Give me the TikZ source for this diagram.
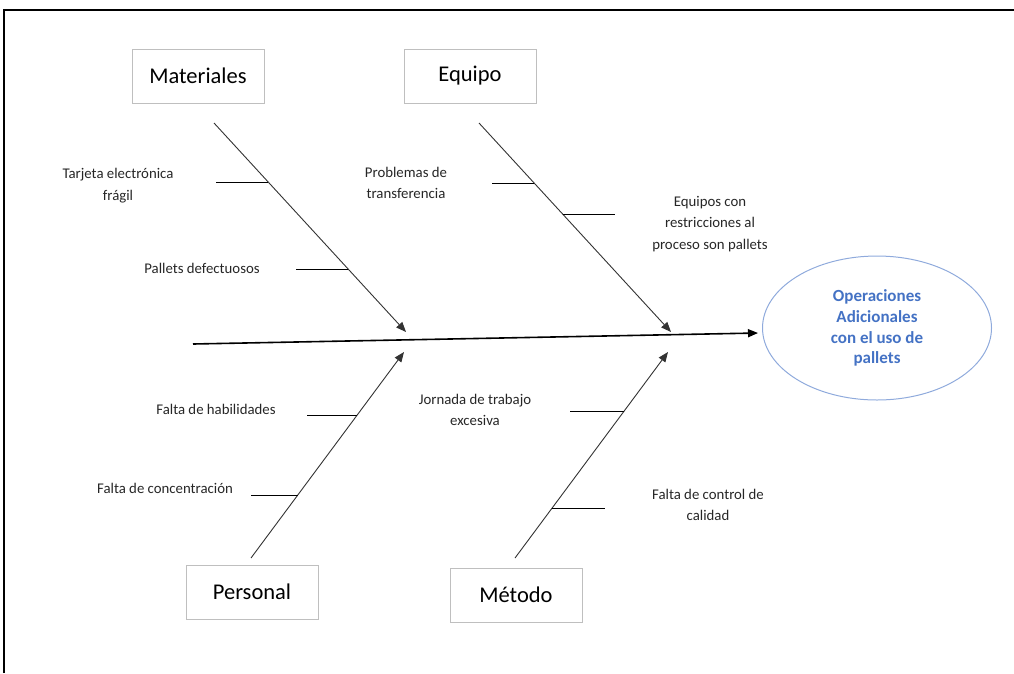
\documentclass[tikz,border=0pt]{standalone}
\usepackage{fontspec}
\setmainfont{Carlito}
\usetikzlibrary{calc,arrows.meta,shapes.geometric}
\definecolor{boxgray}{HTML}{BFBFBF}
\definecolor{effblue}{HTML}{4472C4}
\definecolor{ellblue}{HTML}{8FAADC}

\begin{document}
\begin{tikzpicture}[x=1pt,y=-1pt,
  catbox/.style={draw=boxgray,line width=1pt,minimum width=132pt,minimum height=54pt,font=\fontsize{22.5}{26}\selectfont},
  cause/.style={align=center,text=black!85,font=\fontsize{14.8}{21.8}\selectfont},
  bone/.style={draw=black!80,line width=0.9pt,-{Triangle[length=10pt,width=8pt]}},
  twig/.style={line width=0.8pt}]

\useasboundingbox (0,0) rectangle (1014,673);
\draw[line width=2pt] (4,673) -- (4,10) -- (1014,10);

\begin{scope}
\node[catbox] (mat) at (198,76) {Materiales};
\node[catbox] (equ) at (470,76) {Equipo};
\node[catbox] (per) at (252,592) {Personal};
\node[catbox] (met) at (516,595) {Método};

\node[ellipse,draw=ellblue,line width=1pt,minimum width=229pt,minimum height=144pt,inner sep=0pt,
  align=center,text=effblue,font=\fontsize{17}{20.8}\selectfont\bfseries] (eff) at (877,328)
  {Operaciones\\Adicionales\\con el uso de\\pallets};

\coordinate (tail) at (193,344);
\coordinate (head) at (758,333);
\draw[line width=1.6pt,-{Triangle[length=10pt,width=8pt]}] (tail) -- (head);

\coordinate (mtop) at (214,123);
\coordinate (mtip) at (406,332);
\coordinate (etop) at (479,123);
\coordinate (etip) at (671,332);
\coordinate (pbot) at (251,558);
\coordinate (ptip) at (404,352);
\coordinate (obot) at (515,558);
\coordinate (otip) at (668,352);

\draw[bone] (mtop) -- (mtip);
\draw[bone] (etop) -- (etip);
\draw[bone] (pbot) -- (ptip);
\draw[bone] (obot) -- (otip);

\coordinate (m1) at ($(mtop)!0.282!(mtip)$);
\coordinate (m2) at ($(mtop)!0.699!(mtip)$);
\coordinate (e1) at ($(etop)!0.287!(etip)$);
\coordinate (e2) at ($(etop)!0.435!(etip)$);
\coordinate (p1) at ($(pbot)!0.694!(ptip)$);
\coordinate (p2) at ($(pbot)!0.306!(ptip)$);
\coordinate (o1) at ($(obot)!0.714!(otip)$);
\coordinate (o2) at ($(obot)!0.243!(otip)$);

\draw[twig] (m1) -- ++(-52,0) coordinate (m1l);
\draw[twig] (m2) -- ++(-52,0) coordinate (m2l);
\draw[twig] (e1) -- ++(-42,0) coordinate (e1l);
\draw[twig] (e2) -- ++(52,0) coordinate (e2r);
\draw[twig] (p1) -- ++(-50,0) coordinate (p1l);
\draw[twig] (p2) -- ++(-47,0) coordinate (p2l);
\draw[twig] (o1) -- ++(-54,0) coordinate (o1l);
\draw[twig] (o2) -- ++(53,0) coordinate (o2r);

\node[cause] (c1) at (118,186) {Tarjeta electrónica\\frágil};
\node[cause] (c2) at (202,268) {Pallets defectuosos};
\node[cause] (c3) at (406,183) {Problemas de\\transferencia};
\node[cause] (c4) at (710,224) {Equipos con\\restricciones al\\proceso son pallets};
\node[cause] (c5) at (216,409) {Falta de habilidades};
\node[cause] (c6) at (165,488) {Falta de concentración};
\node[cause] (c7) at (475,410) {Jornada de trabajo\\excesiva};
\node[cause] (c8) at (708,505) {Falta de control de\\calidad};
\end{scope}

\end{tikzpicture}
\end{document}
